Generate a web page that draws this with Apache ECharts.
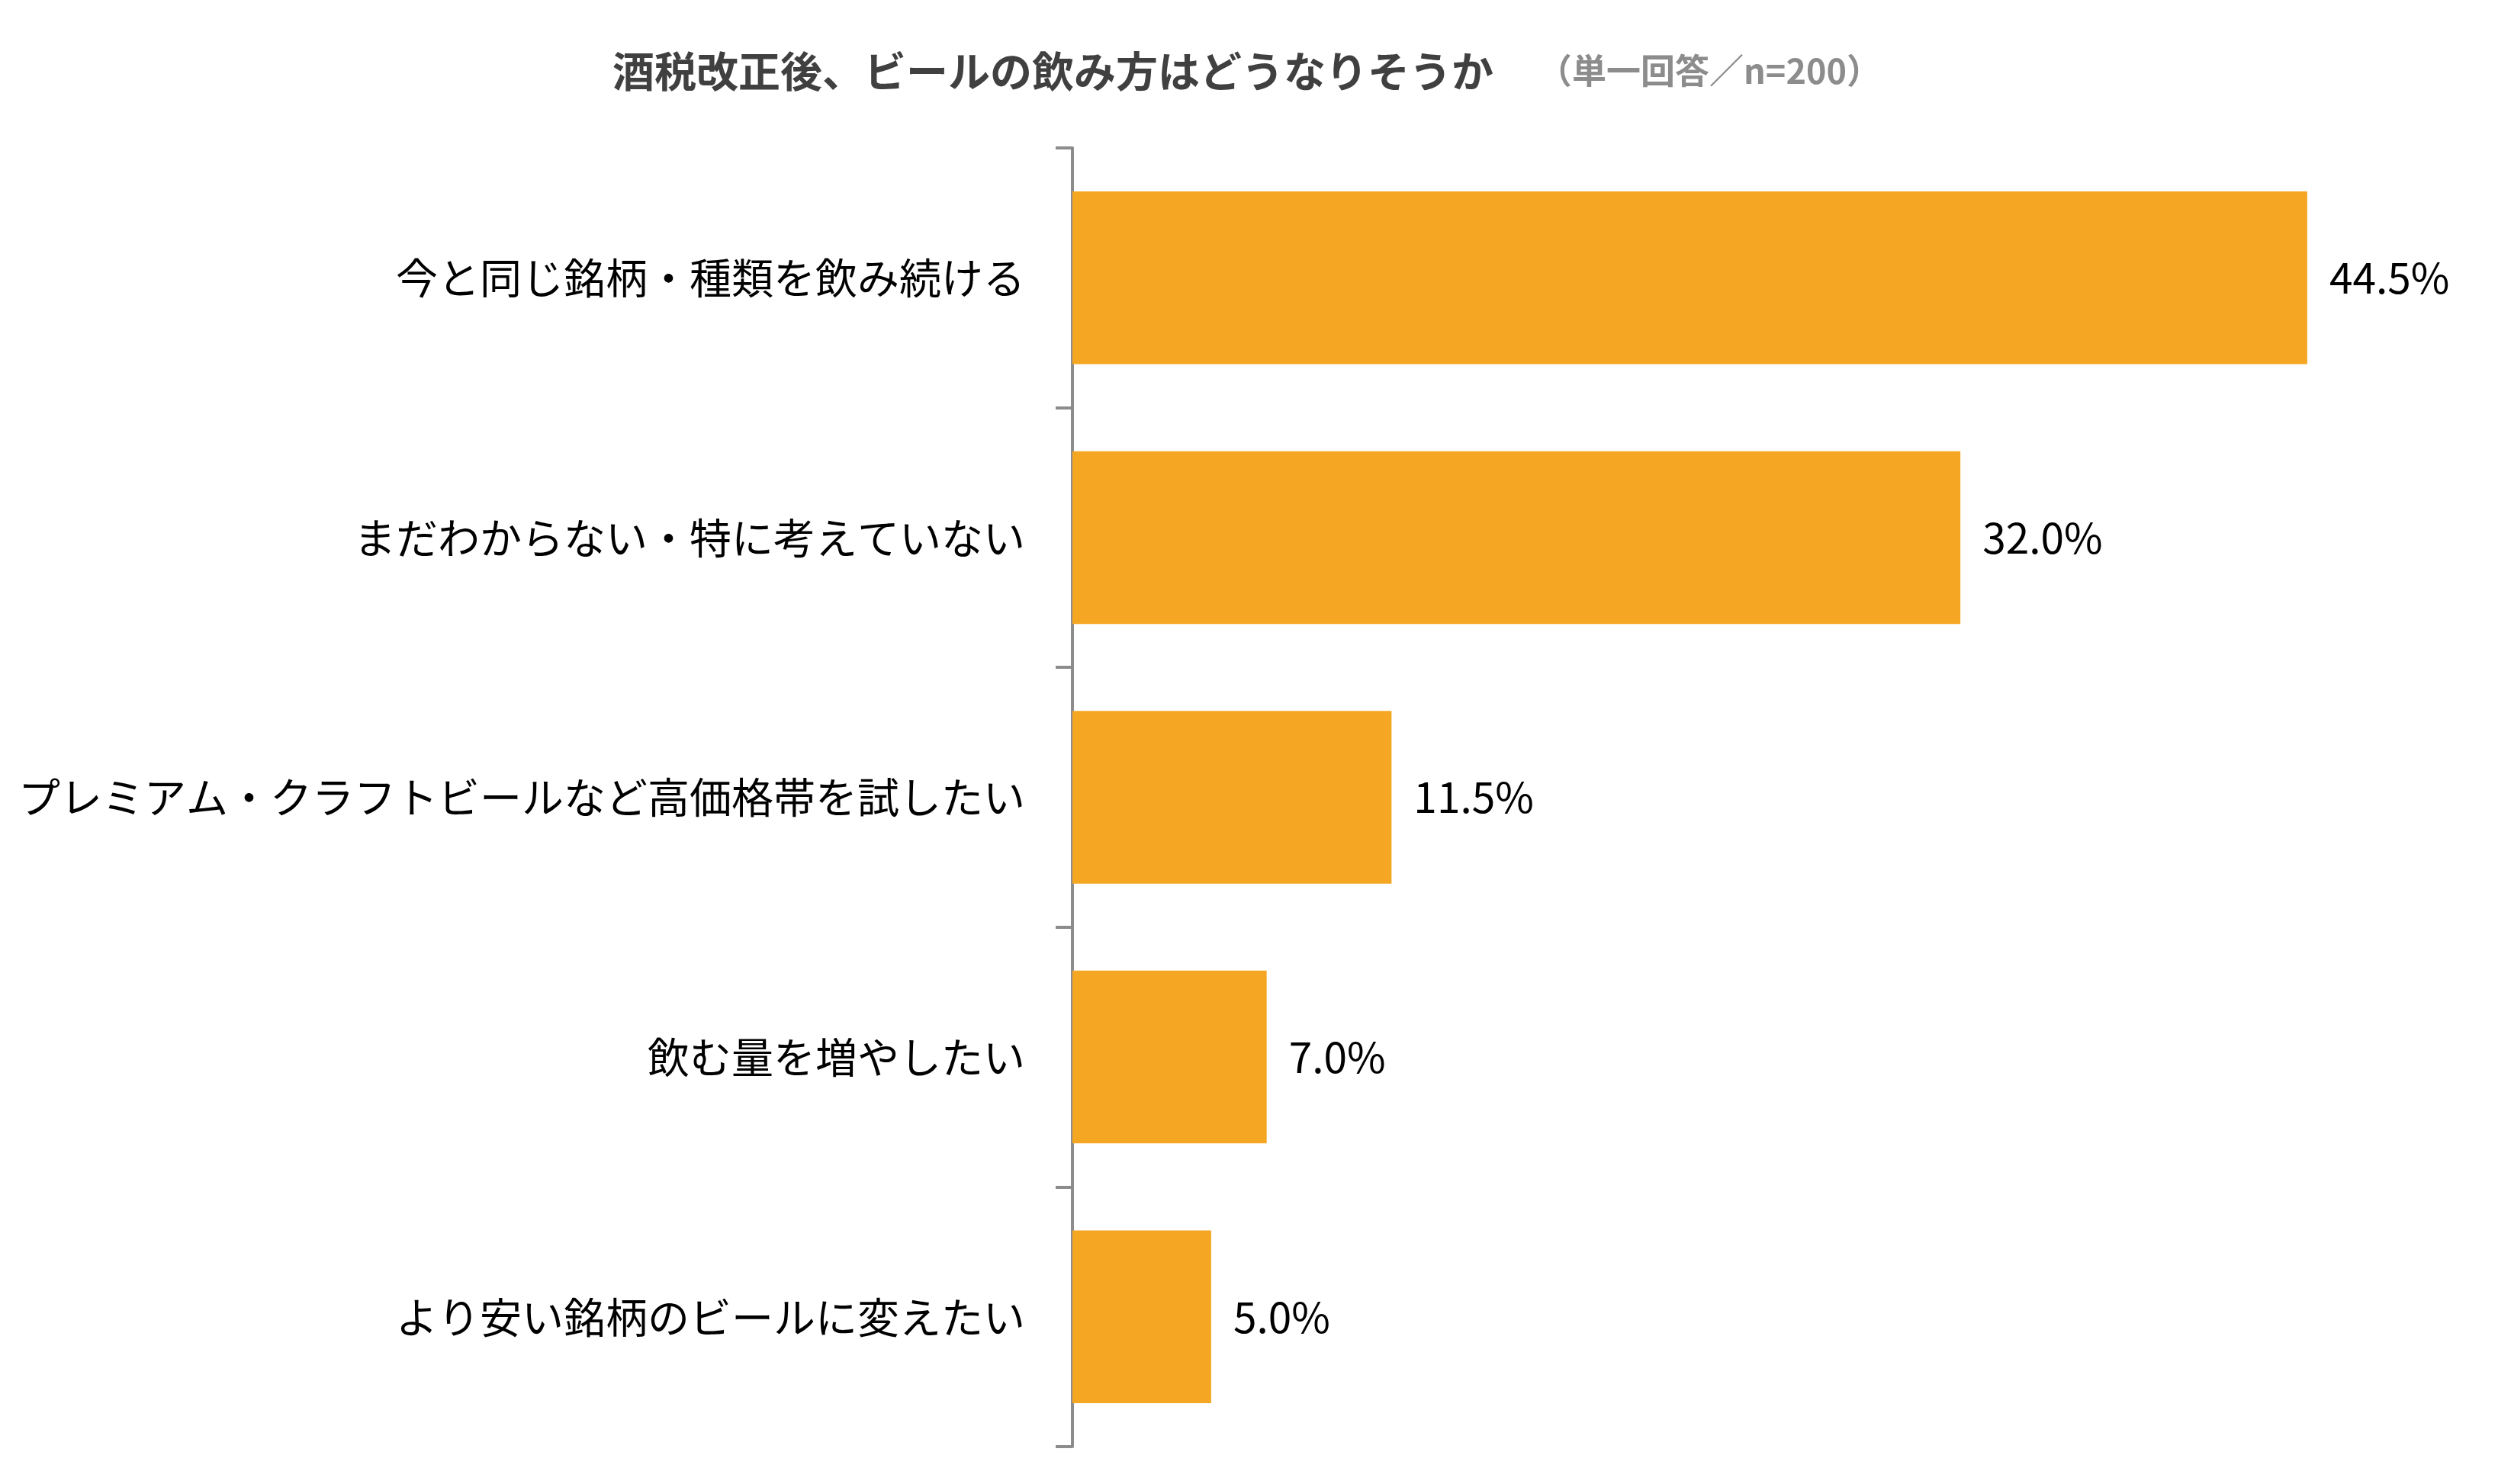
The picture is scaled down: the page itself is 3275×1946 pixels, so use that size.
<!DOCTYPE html>
<html lang="ja">
  <head>
    <meta charset="UTF-8" />
    <title>酒税改正後、ビールの飲み方</title>
    <script src="https://cdn.jsdelivr.net/npm/echarts@6/dist/echarts.min.js"></script>
    <style>
      html, body { margin: 0; padding: 0; background: #fff; }
    </style>
  </head>

  <body>
    <div id="main" style="width: 3275px; height: 1946px"></div>
    <script type="text/javascript">
      const categories = [
        "今と同じ銘柄・種類を飲み続ける",
        "まだわからない・特に考えていない",
        "プレミアム・クラフトビールなど高価格帯を試したい",
        "飲む量を増やしたい",
        "より安い銘柄のビールに変えたい",
      ];
      const shares = [44.5, 32.0, 11.5, 7.0, 5.0];
      const titleText = "酒税改正後、ビールの飲み方はどうなりそうか";
      const subText = "（単一回答／n=200）";

      const font = "'Noto Sans CJK JP', 'Noto Sans', sans-serif";
      const myChart = echarts.init(document.getElementById("main"));

      myChart.setOption({
        backgroundColor: "#fff",
        animation: false,
        title: {
          text: "{a|" + titleText + "}{b|" + subText + "}",
          left: 803,
          top: 63,
          padding: 0,
          textStyle: {
            rich: {
              a: { fontFamily: font, fontSize: 55, fontWeight: "bold", color: "#404040", lineHeight: 60 },
              b: { fontFamily: font, fontSize: 45, fontWeight: "bold", color: "#8c8c8c", lineHeight: 60, padding: [0, 0, 0, 58] },
            },
          },
        },
        grid: { left: 1406, right: 50, top: 194, bottom: 49, containLabel: false },
        xAxis: {
          type: "value",
          min: 0,
          max: 50,
          show: false,
          splitLine: { show: false },
        },
        yAxis: {
          type: "category",
          data: categories,
          inverse: true,
          axisLine: { show: true, lineStyle: { color: "#8c8c8c", width: 4 } },
          axisTick: { show: true, length: 22, lineStyle: { color: "#8c8c8c", width: 4 } },
          axisLabel: { margin: 62, fontFamily: font, fontSize: 55, color: "#000" },
          splitLine: { show: false },
        },
        series: [
          {
            type: "bar",
            data: shares,
            barWidth: "66.5%",
            itemStyle: { color: "#f5a623" },
            label: {
              show: true,
              position: "right",
              distance: 29,
              fontFamily: font,
              fontSize: 55,
              color: "#000",
              formatter: (p) => p.value.toFixed(1) + "%",
            },
          },
        ],
      });
    </script>
  </body>
</html>
